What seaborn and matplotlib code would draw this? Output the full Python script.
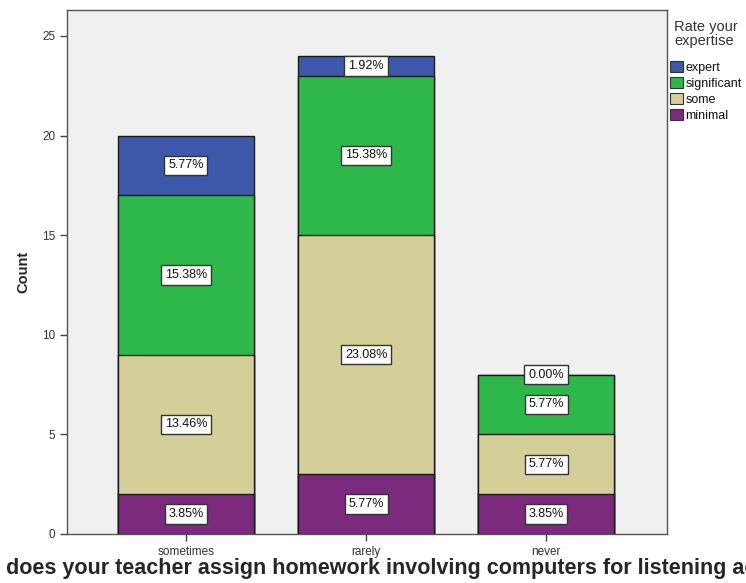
import matplotlib
matplotlib.use("Agg")
import matplotlib.pyplot as plt
import seaborn as sns
import numpy as np
import pandas as pd
from matplotlib.patches import Patch

categories = ["sometimes", "rarely", "never"]
levels = ["minimal", "some", "significant", "expert"]
minimal = [2, 3, 2]
some = [7, 12, 3]
significant = [8, 8, 3]
expert = [3, 1, 0]
pct_labels = {
    "minimal": ["3.85%", "5.77%", "3.85%"],
    "some": ["13.46%", "23.08%", "5.77%"],
    "significant": ["15.38%", "15.38%", "5.77%"],
    "expert": ["5.77%", "1.92%", "0.00%"],
}
colors = {"minimal": "#7B2A7D", "some": "#D4CF98", "significant": "#2EB84B", "expert": "#3D58A8"}

sns.set_style("white")
plt.rcParams["font.family"] = ["Liberation Sans", "DejaVu Sans"]

fig = plt.figure(figsize=(7.46, 5.83), dpi=100)
ax = fig.add_axes([67/746, 49/583, 600/746, 524/583])
ax.set_facecolor("#F0F0F0")

vals = {"minimal": minimal, "some": some, "significant": significant, "expert": expert}
cum = np.cumsum(np.array([vals[l] for l in levels]), axis=0)
bottoms = np.vstack([np.zeros(len(categories)), cum[:-1]])

# draw from top segment to bottom so lower segments overlay
for i in range(len(levels) - 1, -1, -1):
    df = pd.DataFrame({"cat": categories, "val": cum[i]})
    sns.barplot(data=df, x="cat", y="val", color=colors[levels[i]], width=0.756,
                edgecolor="#1a1a1a", linewidth=1.0, saturation=1, ax=ax, order=categories)

for i, lvl in enumerate(levels):
    for j in range(len(categories)):
        yc = bottoms[i, j] + vals[lvl][j] / 2
        ax.text(j, yc, pct_labels[lvl][j], ha="center", va="center", fontsize=9, color="#111111",
                bbox=dict(boxstyle="square,pad=0.3", facecolor="white", edgecolor="#333333", linewidth=1))

ax.set_xlim(-0.661, 2.672)
ax.set_ylim(0, 26.3)
ax.set_yticks([0, 5, 10, 15, 20, 25])
ax.tick_params(axis="both", direction="out", length=5, width=1, color="#444444",
               labelsize=8.5, labelcolor="#333333", left=True, bottom=True)
for s in ax.spines.values():
    s.set_color("#555555")
    s.set_linewidth(1)
ax.set_ylabel("Count", fontsize=10.5, fontweight="bold", labelpad=8)
ax.set_xlabel("How often does your teacher assign homework involving computers for listening activities?",
              fontsize=15.5, fontweight="bold", labelpad=0)

handles = [Patch(facecolor=colors[l], edgecolor="#333333", linewidth=0.8) for l in ["expert", "significant", "some", "minimal"]]
leg = fig.legend(handles, ["expert", "significant", "some", "minimal"], title="Rate your\nexpertise",
                 loc="upper left", bbox_to_anchor=(669/746, 1 - 19/583), frameon=False, fontsize=9,
                 title_fontsize=10.5, handlelength=1.0, handleheight=1.0, handletextpad=0.2,
                 labelspacing=0.25, borderaxespad=0.0, borderpad=0.1)
leg._legend_box.align = "center"
leg._legend_box.sep = 9
for t in leg.get_texts():
    t.set_color("#111111")
leg.get_title().set_color("#333333")
leg.get_title().set_linespacing(1.0)

fig.savefig("out.png", dpi=100)
